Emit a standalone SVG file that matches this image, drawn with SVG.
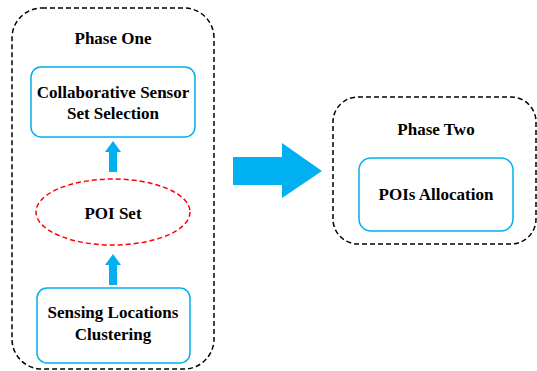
<svg xmlns="http://www.w3.org/2000/svg" width="537" height="371" viewBox="0 0 537 371">
  <style>
    .phase { fill: none; stroke: #000; stroke-width: 1.5; stroke-dasharray: 5 3; }
    .box { fill: #fff; stroke: #00B0F0; stroke-width: 1.5; }
    .set { fill: none; stroke: #FF0000; stroke-width: 1.5; stroke-dasharray: 5 3; }
    .flow { fill: #00B0F0; stroke: none; }
    text { font-family: "Liberation Serif", "Times New Roman", serif; font-weight: bold; font-size: 17px; fill: #000; text-anchor: middle; }
  </style>
  <rect width="537" height="371" fill="#fff"/>

  <g id="phase-one">
    <rect class="phase" x="12" y="8" width="202" height="361" rx="30" ry="30"/>
    <text x="113" y="44">Phase One</text>
  </g>

  <g id="sensor-selection">
    <rect class="box" x="31" y="67" width="164" height="70" rx="10" ry="10"/>
    <text x="113" y="98">Collaborative Sensor</text>
    <text x="113" y="119">Set Selection</text>
  </g>

  <g id="poi-set">
    <ellipse class="set" cx="113" cy="212" rx="77" ry="33"/>
    <text x="113" y="219">POI Set</text>
  </g>

  <g id="clustering">
    <rect class="box" x="37" y="288" width="153" height="75" rx="10" ry="10"/>
    <text x="113" y="318">Sensing Locations</text>
    <text x="113" y="340">Clustering</text>
  </g>

  <g id="phase-two">
    <rect class="phase" x="333" y="97" width="203" height="147" rx="25" ry="25"/>
    <text x="436" y="135">Phase Two</text>
  </g>

  <g id="allocation">
    <rect class="box" x="359" y="158" width="154" height="73" rx="12" ry="12"/>
    <text x="436" y="200">POIs Allocation</text>
  </g>

  <g id="connectors">
    <polygon class="flow" points="113,141 121,152 117,152 117,172 109,172 109,152 105,152"/>
    <polygon class="flow" points="113,254 121,265 117,265 117,285 109,285 109,265 105,265"/>
    <polygon class="flow" points="233,157 282,157 282,143 322,171 282,198 282,185 233,185"/>
  </g>
</svg>
